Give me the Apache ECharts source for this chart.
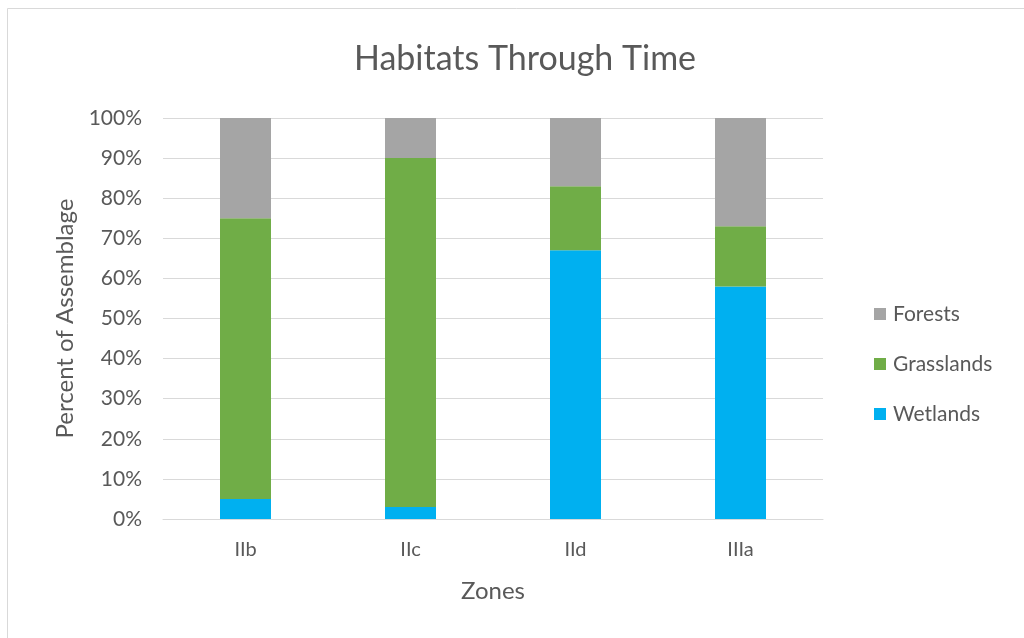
<!DOCTYPE html>
<html>
<head>
<meta charset="utf-8">
<script src="https://cdn.jsdelivr.net/npm/echarts@6/dist/echarts.min.js"></script>
<style>
html,body{margin:0;padding:0;background:#fff;}
#chart{width:1024px;height:638px;}
</style>
</head>
<body>
<div id="chart"></div>
<script>
const categories = ['IIb', 'IIc', 'IId', 'IIIa'];
const wetlands = [5, 3, 67, 58];
const grasslands = [70, 87, 16, 15];
const forests = [25, 10, 17, 27];
const yTicks = [0, 10, 20, 30, 40, 50, 60, 70, 80, 90, 100];

const FONT = 'Lato, "Open Sans", sans-serif';
const TXT = '#595959';

const chart = echarts.init(document.getElementById('chart'), null, {renderer: 'canvas'});
chart.setOption({
  animation: false,
  backgroundColor: '#ffffff',
  title: {
    text: 'Habitats Through Time',
    left: 520, top: 37, textAlign: 'center',
    textStyle: {fontFamily: FONT, fontSize: 34, fontWeight: 'normal', color: TXT}
  },
  legend: {
    orient: 'vertical',
    left: 874, top: 303, padding: 0,
    itemWidth: 12, itemHeight: 12, itemGap: 28,
    icon: 'rect',
    data: ['Forests', 'Grasslands', 'Wetlands'],
    textStyle: {fontFamily: FONT, fontSize: 21, color: TXT, lineHeight: 22, padding: [0, 0, 0, 2]}
  },
  grid: {left: 163, right: 201, top: 118, bottom: 119, containLabel: false},
  xAxis: {
    type: 'category',
    data: categories,
    name: 'Zones',
    nameLocation: 'middle',
    nameGap: 60,
    nameTextStyle: {fontFamily: FONT, fontSize: 24, color: TXT},
    axisLine: {lineStyle: {color: '#d9d9d9'}},
    axisTick: {show: false},
    axisLabel: {fontFamily: FONT, fontSize: 20, color: TXT, margin: 21}
  },
  yAxis: {
    type: 'value',
    min: 0, max: 100, interval: 10,
    name: 'Percent of Assemblage',
    nameLocation: 'middle',
    nameGap: 86,
    nameTextStyle: {fontFamily: FONT, fontSize: 24, color: TXT},
    axisLine: {show: false},
    axisTick: {show: false},
    axisLabel: {fontFamily: FONT, fontSize: 21, color: TXT, margin: 21,
      formatter: v => yTicks.includes(v) ? v + '%' : ''},
    splitLine: {lineStyle: {color: '#d9d9d9', width: 1}}
  },
  series: [
    {name: 'Wetlands', type: 'bar', stack: 'all', data: wetlands, barWidth: 51,
      itemStyle: {color: '#00B0F0'}},
    {name: 'Grasslands', type: 'bar', stack: 'all', data: grasslands, barWidth: 51,
      itemStyle: {color: '#70AD47'}},
    {name: 'Forests', type: 'bar', stack: 'all', data: forests, barWidth: 51,
      itemStyle: {color: '#A5A5A5'}}
  ],
  graphic: [{
    type: 'rect',
    shape: {x: 7.5, y: 8.5, width: 1100, height: 700},
    style: {fill: 'none', stroke: '#d9d9d9', lineWidth: 1},
    silent: true, z: -1
  }]
});
</script>
</body>
</html>
